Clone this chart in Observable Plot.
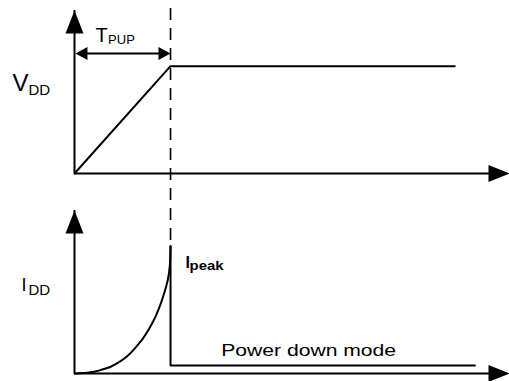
<!DOCTYPE html>
<html><head><meta charset="utf-8">
<script src="https://cdn.jsdelivr.net/npm/d3@7"></script>
<script src="https://cdn.jsdelivr.net/npm/@observablehq/plot@0.6"></script>
<style>html,body{margin:0;padding:0;background:#fff} svg{display:block}</style>
</head><body><div id="chart"></div>
<script>
// Panels (stacked facets)
const panels = ["VDD", "IDD"];
// Time in units of T_PUP (0 = power-on, 1 = end of T_PUP)
const tPup = 1;
const tEnd = 4.53;
const yTop = 1.28;
// V_DD supply ramp then steady level (normalised to I_peak scale)
const vddTime = [0, 1, 3.96];
const vddLevel = [0, 0.843, 0.843];
// I_DD rising current during power-up
const iddRampTime = [0, 0.15, 0.3, 0.48, 0.66, 0.82, 0.93, 0.97, 0.993, 1];
const iddRampLevel = [0, 0.008, 0.033, 0.098, 0.225, 0.41, 0.62, 0.73, 0.85, 1];
// I_DD drop into power down mode
const iddDownTime = [1, 1, 4.17];
const iddDownLevel = [1, 0.063, 0.063];
const tPupLevel = 0.942;

const FONT = "'Liberation Sans', Arial, Helvetica, sans-serif";
const zip = (xs, ys) => xs.map((x, i) => ({x, y: ys[i]}));
const head = (len, half) => ({draw(ctx) { ctx.moveTo(0, 0); ctx.lineTo(half, len); ctx.lineTo(-half, len); ctx.closePath(); }});
const bigUp = head(23, 9);
const bigRight = head(21, 8.5);
const small = head(12, 6.5);
const inP = p => ({fy: () => p});
const txt = (s, p, x, y, size, weight = "normal") =>
  Plot.text([s], {text: d => d, x: () => x, y: () => y, ...inP(p), fontSize: size, fontWeight: weight,
    fontFamily: FONT, textAnchor: "start", lineAnchor: "bottom", fill: "black"});

const chart = Plot.plot({
  width: 509, height: 381,
  marginLeft: 74, marginRight: 0, marginTop: 10, marginBottom: 8,
  x: {domain: [0, tEnd], axis: null},
  y: {domain: [0, yTop], axis: null},
  fy: {domain: panels, axis: null, paddingInner: 0.185, paddingOuter: 0},
  style: {background: "white", fontFamily: FONT},
  marks: [
    // axes
    Plot.ruleX(panels, {x: () => 0, y1: () => 0, y2: () => yTop, fy: d => d, stroke: "black", strokeWidth: 2}),
    Plot.ruleY(panels, {y: () => 0, x1: () => 0, x2: () => tEnd - 0.1, fy: d => d, stroke: "black", strokeWidth: 2}),
    Plot.dot(panels, {x: () => 0, y: () => yTop, fy: d => d, symbol: bigUp, fill: "black", stroke: null}),
    Plot.dot(panels, {x: () => tEnd, y: () => 0, fy: d => d, symbol: bigRight, rotate: 90, fill: "black", stroke: null}),
    // dashed marker at end of T_PUP, from top down to I_peak
    Plot.ruleX(["IDD"], {x: () => tPup, y1: () => 2.866, y2: () => 1, fy: d => d, stroke: "black", strokeWidth: 1.6, strokeDasharray: "12,8"}),
    // V_DD
    Plot.line(zip(vddTime, vddLevel), {x: "x", y: "y", ...inP("VDD"), stroke: "black", strokeWidth: 2}),
    // T_PUP double arrow
    Plot.ruleY(["VDD"], {y: () => tPupLevel, x1: () => 0.05, x2: () => tPup - 0.05, fy: d => d, stroke: "black", strokeWidth: 2}),
    Plot.dot(["VDD"], {x: () => 0.01, y: () => tPupLevel, fy: d => d, symbol: small, rotate: -90, fill: "black", stroke: null}),
    Plot.dot(["VDD"], {x: () => tPup, y: () => tPupLevel, fy: d => d, symbol: small, rotate: 90, fill: "black", stroke: null}),
    // I_DD
    Plot.line(zip(iddRampTime, iddRampLevel), {x: "x", y: "y", ...inP("IDD"), curve: "monotone-y", stroke: "black", strokeWidth: 2}),
    Plot.line(zip(iddDownTime, iddDownLevel), {x: "x", y: "y", ...inP("IDD"), stroke: "black", strokeWidth: 2}),
    // labels
    txt("V", "VDD", -0.646, 0.644, 24),
    txt("DD", "VDD", -0.479, 0.613, 15),
    txt("T", "VDD", 0.219, 1.029, 20),
    txt("PUP", "VDD", 0.35, 1.017, 13),
    txt("I", "IDD", -0.552, 0.644, 18),
    txt("DD", "IDD", -0.479, 0.620, 15),
    txt("I", "IDD", 1.156, 0.832, 16, "bold"),
    txt("peak", "IDD", 1.198, 0.813, 13, "bold"),
    txt("Power down mode", "IDD", 1.527, 0.141, 17)
  ]
});
document.getElementById("chart").appendChild(chart);
chart.querySelectorAll("text").forEach(t => {
  if (t.textContent === "Power down mode") { t.setAttribute("textLength", 175); t.setAttribute("lengthAdjust", "spacingAndGlyphs"); }
  if (t.textContent === "peak") { t.setAttribute("textLength", 34); t.setAttribute("lengthAdjust", "spacingAndGlyphs"); }
});
</script>
</body></html>
